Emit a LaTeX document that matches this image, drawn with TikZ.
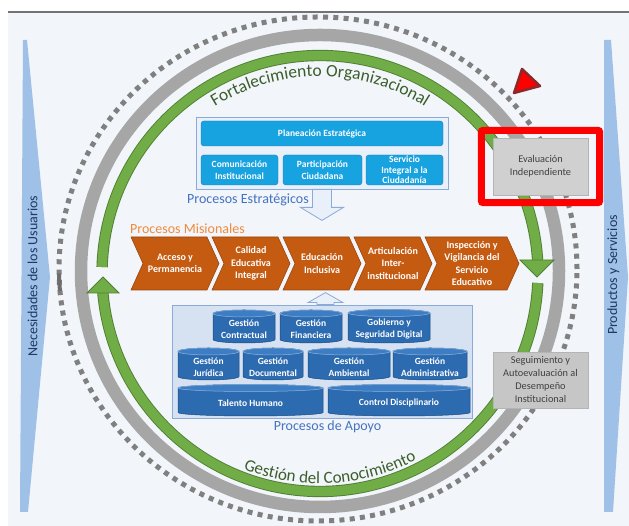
\documentclass[tikz,border=0pt]{standalone}
\usepackage{fontspec}
\setmainfont{Carlito}
\usetikzlibrary{decorations.text}

\definecolor{panel}{HTML}{F2F5F9}
\definecolor{wedge}{HTML}{9FC1E8}
\definecolor{navy}{HTML}{1F3864}
\definecolor{ringgray}{HTML}{A6A6A6}
\definecolor{dotgray}{HTML}{808080}
\definecolor{ringgreen}{HTML}{70AD47}
\definecolor{ringedge}{HTML}{507E32}
\definecolor{ringtext}{HTML}{3B5E2B}
\definecolor{labelblue}{HTML}{4472C4}
\definecolor{labelorange}{HTML}{F08A3C}
\definecolor{estfill}{HTML}{17A2E0}
\definecolor{estedge}{HTML}{1F78B4}
\definecolor{framefill}{HTML}{E9F0F9}
\definecolor{frameedge}{HTML}{8AAADA}
\definecolor{apofill}{HTML}{D6E2F2}
\definecolor{chevfill}{HTML}{C55A11}
\definecolor{chevedge}{HTML}{9A460F}
\definecolor{cylfill}{HTML}{2C6BB0}
\definecolor{cyltopfill}{HTML}{3D7DC3}
\definecolor{cyledge}{HTML}{1C4A7E}
\definecolor{cyltopedge}{HTML}{8FB4DF}
\definecolor{boxgray}{HTML}{D0D0D0}
\definecolor{boxedge}{HTML}{B4B4B4}
\definecolor{textgray}{HTML}{404040}
\definecolor{trired}{HTML}{FF0000}
\definecolor{triedge}{HTML}{8B2A2A}

\tikzset{
  estbox/.style={draw=estedge, fill=estfill, rounded corners=3pt, text=white,
    font=\bfseries\fontsize{9.5}{11.5}\selectfont, align=center, inner sep=1pt},
  chevshape/.style={fill=chevfill, draw=chevedge, line width=0.6pt},
  chevtext/.style={text=white, font=\bfseries\fontsize{10}{12.5}\selectfont, align=center, inner sep=0pt},
  cylbody/.style={fill=cylfill, draw=cyledge, line width=0.5pt},
  cyltop/.style={fill=cyltopfill, draw=cyltopedge, line width=0.5pt},
  cyltext/.style={text=white, font=\bfseries\fontsize{9.5}{12.3}\selectfont, align=center, inner sep=0pt},
  graybox/.style={fill=boxgray, draw=boxedge, text=textgray, font=\fontsize{10.3}{13}\selectfont,
    align=center, minimum width=95pt, inner sep=2pt},
  proclabel/.style={font=\fontsize{14}{14}\selectfont, inner sep=0pt},
  sidelabel/.style={text=navy, font=\fontsize{14}{14}\selectfont, rotate=90, inner sep=0pt},
  hollow/.style={fill=framefill, draw=frameedge, line width=0.8pt},
  greenring/.style={draw=ringedge, double=ringgreen, double distance=9.5pt, line width=0.9pt},
}

% cylinder: name, x left, x right, y top, y bottom, text
\newcommand{\cylnode}[6]{%
  \filldraw[cylbody] (#2,#4-3.5) -- (#2,#5+3.5)
    arc[start angle=180, end angle=360, x radius={(#3-#2)/2}, y radius=3.5]
    -- (#3,#4-3.5) arc[start angle=0, end angle=180, x radius={(#3-#2)/2}, y radius=3.5] -- cycle;
  \filldraw[cyltop] ({(#2+#3)/2},#4-3.5) ellipse[x radius={(#3-#2)/2}, y radius=3.5];
  \node[cyltext] (#1) at ({(#2+#3)/2},{(#4+#5)/2-3}) {#6};
}

\begin{document}
\begin{tikzpicture}[x=1pt,y=1pt]
  \useasboundingbox (0,0) rectangle (629,526);
  \fill[white] (0,0) rectangle (629,526);
  \fill[panel] (8,0) rectangle (629,514);
  \draw[line width=2.5pt, black!55] (8,514) -- (629,514);

  % users and products
  \fill[wedge] (23,486) -- (27,486) -- (50,249) -- (28,14) -- (20,14) -- cycle;
  \fill[wedge] (604,486) -- (611,486) -- (628,249) -- (613,14) -- (604,14) -- cycle;
  \node[sidelabel] (usuarios) at (32.5,250) {Necesidades de los Usuarios};
  \node[sidelabel] (productos) at (613.5,251) {Productos y Servicios};

  % rings
  \draw[dotgray, line width=5pt, dash pattern=on 5pt off 5.3pt] (318,257) ellipse[x radius=259, y radius=252];
  \draw[dotgray!85!black, line width=4pt] ([shift={(181:259 and 252)}]318,257)
    arc[start angle=181, end angle=185, x radius=259, y radius=252];
  \draw[ringgray, line width=12.5pt] (320,255) ellipse[x radius=239, y radius=236];

  \draw[greenring] ([shift={(178.3:218)}]320,252.5) arc[start angle=178.3, end angle=3, radius=218];
  \draw[greenring] ([shift={(-2.5:218)}]320,252.5) arc[start angle=-2.5, end angle=-175.5, radius=218];
  \filldraw[fill=ringgreen, draw=ringedge, line width=0.9pt] (520,266) -- (554,266) -- (537,249) -- cycle;
  \filldraw[fill=ringgreen, draw=ringedge, line width=0.9pt] (87,233) -- (119,233) -- (103,249) -- cycle;

  \path[decorate, decoration={text along path, text align=center,
      text={|\color{ringtext}\fontsize{17.5}{17.5}\selectfont|Fortalecimiento Organizacional}}]
    ([shift={(150:197)}]320,252.5) arc[start angle=150, end angle=30, radius=197];
  \path[decorate, decoration={text along path, text align=center,
      text={|\color{ringtext}\fontsize{17}{17}\selectfont|Gestión del Conocimiento}}]
    ([shift={(213:210)}]320,252.5) arc[start angle=213, end angle=333, radius=210];

  \filldraw[fill=trired, draw=triedge, line width=2.5pt, line join=round] (522,457) -- (540,440) -- (514,433) -- cycle;

  % strategic processes
  \node[hollow, minimum width=252, minimum height=72, inner sep=0pt] (estrategicos) at (322,373) {};
  \node[estbox, minimum width=242, minimum height=25] (planeacion) at (322,392.5) {Planeación Estratégica};
  \node[estbox, minimum width=77, minimum height=30] (comunicacion) at (239.5,356) {Comunicación\\Institucional};
  \node[estbox, minimum width=79, minimum height=30] (participacion) at (322.5,356) {Participación\\Ciudadana};
  \node[estbox, minimum width=77, minimum height=30, inner ysep=0pt,
    font=\bfseries\fontsize{9.5}{10.3}\selectfont] (servicio) at (404.5,356) {Servicio\\Integral a la\\Ciudadanía};
  \node[proclabel, text=labelblue, anchor=base west] (lblest) at (187,322) {Procesos Estratégicos};
  \filldraw[hollow] ([xshift=-9.5pt]estrategicos.south) -- ++(0,-18) -- ++(-12,0) -- ++(21.5,-13)
    -- ++(21.5,13) -- ++(-12,0) -- ++(0,18) -- cycle;

  % missional processes
  \node[proclabel, text=labelorange, anchor=base west] (lblmis) at (130,292) {Procesos Misionales};
  \foreach \xa/\xb/\txt [count=\i] in {131/219/{Acceso y\\Permanencia},
      212/290/{Calidad\\Educativa\\Integral}, 283/361/{Educación\\Inclusiva},
      354/432/{Articulación\\Inter-\\institucional},
      425/519/{Inspección y\\Vigilancia del\\Servicio\\Educativo}} {
    \filldraw[chevshape] (\xa,289) -- (\xb-12,289) -- (\xb,262.5) -- (\xb-12,236) -- (\xa,236) -- (\xa+12,262.5) -- cycle;
    \node[chevtext] (mision\i) at ({(\xa+\xb)/2},262.5) {\txt};
  }

  % support processes
  \node[hollow, fill=apofill, minimum width=300, minimum height=113, inner sep=0pt] (apoyo) at (322,164.5) {};
  \filldraw[hollow] ([xshift=-5pt]apoyo.north) -- ++(0,2) -- ++(-9,0) -- ++(17.5,10) -- ++(17.5,-10)
    -- ++(-9,0) -- ++(0,-2) -- cycle;
  \cylnode{contractual}{213}{275}{216}{183}{Gestión\\Contractual}
  \cylnode{financiera}{280}{342}{216}{183}{Gestión\\Financiera}
  \cylnode{gobierno}{348}{430}{216.5}{183}{Gobierno y\\Seguridad Digital}
  \cylnode{juridica}{178}{239}{178}{146}{Gestión\\Jurídica}
  \cylnode{documental}{243}{303}{178}{146}{Gestión\\Documental}
  \cylnode{ambiental}{308}{390}{178}{146}{Gestión\\Ambiental}
  \cylnode{administrativa}{393}{467}{178}{146}{Gestión\\Administrativa}
  \cylnode{talento}{178}{323}{141.5}{110}{Talento Humano}
  \cylnode{disciplinario}{328}{470}{141.5}{110}{Control Disciplinario}
  \node[proclabel, text=labelblue, anchor=base] (lblapo) at (327.5,95) {Procesos de Apoyo};

  % evaluation
  \node[graybox, minimum height=57] (evaluacion) at (540.5,359.5) {Evaluación\\Independiente};
  \draw[trired, line width=7pt, rounded corners=2pt] ([shift={(-11.5,-7.5)}]evaluacion.south west)
    rectangle ([shift={(11.5,7.5)}]evaluacion.north east);
  \node[graybox, fill=boxgray!95!black, minimum height=56] (seguimiento) at (540.5,146)
    {Seguimiento y\\Autoevaluación al\\Desempeño\\Institucional};
\end{tikzpicture}
\end{document}
